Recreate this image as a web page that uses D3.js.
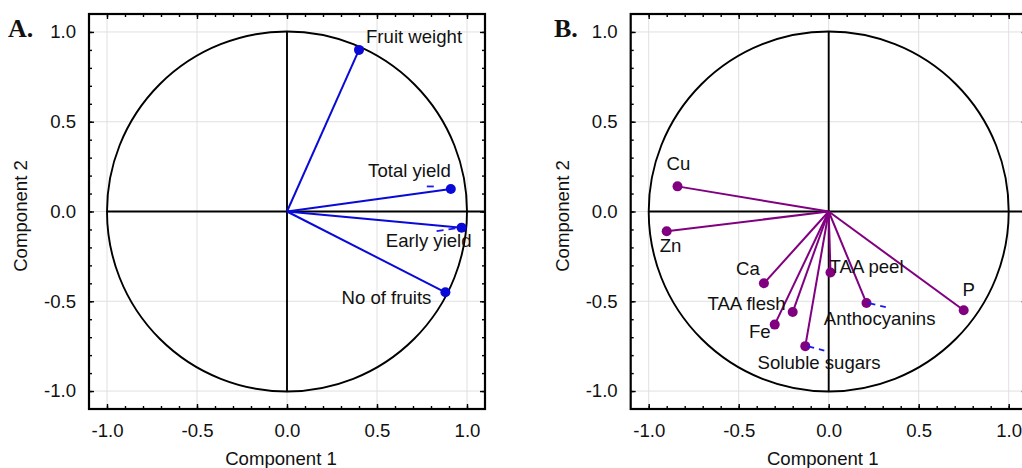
<!DOCTYPE html>
<html>
<head>
<meta charset="utf-8">
<script src="https://cdn.jsdelivr.net/npm/d3@7"></script>
<style>
  html, body { margin: 0; padding: 0; background: #fff; overflow: hidden; }
  svg { display: block; font-family: "Liberation Sans", Arial, sans-serif; }
</style>
</head>
<body>
<svg id="chart" width="1022" height="468"></svg>
<script>
// ---- data ----
const varsA = ["Fruit weight", "Total yield", "Early yield", "No of fruits"];
const pc1A  = [0.40, 0.91, 0.97, 0.88];
const pc2A  = [0.90, 0.125, -0.09, -0.45];

const varsB = ["Cu", "Zn", "Ca", "TAA flesh", "Fe", "Soluble sugars", "TAA peel", "Anthocyanins", "P"];
const pc1B  = [-0.84, -0.90, -0.36, -0.20, -0.30, -0.13, 0.01, 0.21, 0.75];
const pc2B  = [0.14, -0.11, -0.40, -0.56, -0.63, -0.75, -0.34, -0.51, -0.55];

const majorTicks = [-1.0, -0.5, 0.0, 0.5, 1.0];
const minorTicks = d3.range(-10, 11).map(i => i / 10);
const xTitle = "Component 1";
const yTitle = "Component 2";

// ---- layout (pixel styling, not data) ----
const FS = 18.6;
const labelPosA = {
  "Fruit weight": ["start", 7, -6.6],
  "Total yield":  ["end", 0, -12.2],
  "Early yield":  ["end", 10, 19.8],
  "No of fruits": ["end", -14, 12.1]
};
const labelPosB = {
  "Cu": ["middle", 1, -16.6],
  "Zn": ["start", -7, 20.4],
  "Ca": ["end", -4, -8.6],
  "TAA flesh": ["end", -7, -1.6],
  "Fe": ["end", -4, 13.8],
  "Soluble sugars": ["start", -47.7, 22.4],
  "TAA peel": ["start", -1, 0.4],
  "Anthocyanins": ["start", -42.7, 22],
  "P": ["middle", 5, -14.3]
};
const leadersA = { "Total yield": [[-24, -2.6], [-17, -2.6]], "Early yield": [[-25, 3.4], [-2, 0]] };
const leadersB = { "Anthocyanins": [[2, 0], [19.3, 4]], "Soluble sugars": [[2, 0], [19, 4.4]] };

const svg = d3.select("#chart");
const plotTop = 14, plotBottom = 409, plotSize = 396;

function drawPanel(opt) {
  const x = d3.scaleLinear().domain([-1.1, 1.1]).range([opt.left, opt.left + plotSize]);
  const y = d3.scaleLinear().domain([-1.1, 1.1]).range([plotBottom, plotTop]);
  const g = svg.append("g");

  // grid
  g.selectAll(".gx").data(majorTicks).enter().append("line")
    .attr("x1", d => x(d)).attr("x2", d => x(d)).attr("y1", plotTop).attr("y2", plotBottom)
    .attr("stroke", "#e0e0e0").attr("stroke-width", 1);
  g.selectAll(".gy").data(majorTicks).enter().append("line")
    .attr("y1", d => y(d)).attr("y2", d => y(d)).attr("x1", opt.left).attr("x2", opt.left + plotSize)
    .attr("stroke", "#e0e0e0").attr("stroke-width", 1);

  // unit circle
  g.append("circle").attr("cx", x(0)).attr("cy", y(0)).attr("r", x(1) - x(0))
    .attr("fill", "none").attr("stroke", "#000").attr("stroke-width", 1.9);
  // cross axes
  g.append("line").attr("x1", x(-1)).attr("x2", x(1.1)).attr("y1", y(0)).attr("y2", y(0))
    .attr("stroke", "#000").attr("stroke-width", 1.9);
  g.append("line").attr("x1", x(0)).attr("x2", x(0)).attr("y1", y(1)).attr("y2", y(-1))
    .attr("stroke", "#000").attr("stroke-width", 1.9);

  const pts = opt.names.map((n, i) => ({ n, px: opt.xs[i], py: opt.ys[i] }));

  // vectors
  g.selectAll(".vec").data(pts).enter().append("line")
    .attr("x1", x(0)).attr("y1", y(0))
    .attr("x2", d => x(d.px)).attr("y2", d => y(d.py))
    .attr("stroke", opt.color).attr("stroke-width", 2);
  // points
  g.selectAll(".pt").data(pts).enter().append("circle")
    .attr("cx", d => x(d.px)).attr("cy", d => y(d.py)).attr("r", 5)
    .attr("fill", opt.color);
  // leaders
  pts.filter(d => opt.leaders[d.n]).forEach(d => {
    const L = opt.leaders[d.n];
    g.append("line")
      .attr("x1", x(d.px) + L[0][0]).attr("y1", y(d.py) + L[0][1])
      .attr("x2", x(d.px) + L[1][0]).attr("y2", y(d.py) + L[1][1])
      .attr("stroke", "#1a1aee").attr("stroke-width", 1.8).attr("stroke-dasharray", "7,5");
  });
  // labels
  g.selectAll(".lab").data(pts).enter().append("text")
    .attr("x", d => x(d.px) + opt.labels[d.n][1])
    .attr("y", d => y(d.py) + opt.labels[d.n][2])
    .attr("text-anchor", d => opt.labels[d.n][0])
    .attr("font-size", FS).attr("fill", "#111")
    .text(d => d.n);

  // ticks (inward) on all four sides
  const fmt = d => d.toFixed(1);
  const axB = g.append("g").attr("transform", `translate(0,${plotBottom})`)
    .call(d3.axisBottom(x).tickValues(majorTicks).tickFormat(fmt).tickSize(-5).tickPadding(15));
  const axL = g.append("g").attr("transform", `translate(${opt.left},0)`)
    .call(d3.axisLeft(y).tickValues(majorTicks).tickFormat(fmt).tickSize(-5).tickPadding(13));
  const axT = g.append("g").attr("transform", `translate(0,${plotTop})`)
    .call(d3.axisTop(x).tickValues(majorTicks).tickFormat("").tickSize(-5));
  const axR = g.append("g").attr("transform", `translate(${opt.left + plotSize},0)`)
    .call(d3.axisRight(y).tickValues(majorTicks).tickFormat("").tickSize(-5));
  const mB = g.append("g").attr("transform", `translate(0,${plotBottom})`)
    .call(d3.axisBottom(x).tickValues(minorTicks).tickFormat("").tickSize(-3));
  const mL = g.append("g").attr("transform", `translate(${opt.left},0)`)
    .call(d3.axisLeft(y).tickValues(minorTicks).tickFormat("").tickSize(-3));
  const mT = g.append("g").attr("transform", `translate(0,${plotTop})`)
    .call(d3.axisTop(x).tickValues(minorTicks).tickFormat("").tickSize(-3));
  const mR = g.append("g").attr("transform", `translate(${opt.left + plotSize},0)`)
    .call(d3.axisRight(y).tickValues(minorTicks).tickFormat("").tickSize(-3));
  [axB, axL, axT, axR, mB, mL, mT, mR].forEach(a => {
    a.select(".domain").remove();
    a.selectAll("line").attr("stroke", "#000").attr("stroke-width", 1.4);
    a.selectAll("text").attr("font-size", FS).attr("fill", "#111")
      .attr("font-family", "'Liberation Sans', Arial, sans-serif");
  });

  // frame
  g.append("rect").attr("x", opt.left).attr("y", plotTop).attr("width", plotSize).attr("height", plotBottom - plotTop)
    .attr("fill", "none").attr("stroke", "#000").attr("stroke-width", 2.2);

  // titles
  g.append("text").attr("x", x(0) - 6).attr("y", 465).attr("text-anchor", "middle")
    .attr("font-size", FS).attr("fill", "#111").text(xTitle);
  g.append("text").attr("transform", `translate(${opt.yTitleX},216) rotate(-90)`)
    .attr("text-anchor", "middle").attr("font-size", FS).attr("fill", "#111").text(yTitle);
  g.append("text").attr("x", opt.letterX).attr("y", 37).attr("font-size", 26)
    .attr("font-weight", "bold").attr("font-family", "'Liberation Serif', 'Times New Roman', serif")
    .attr("fill", "#111").text(opt.letter);
}

drawPanel({ left: 89, letter: "A.", letterX: 8, yTitleX: 26.5, names: varsA, xs: pc1A, ys: pc2A,
  color: "#0a0ad8", labels: labelPosA, leaders: leadersA });
drawPanel({ left: 630.7, letter: "B.", letterX: 554, yTitleX: 569, names: varsB, xs: pc1B, ys: pc2B,
  color: "#800080", labels: labelPosB, leaders: leadersB });
</script>
</body>
</html>
